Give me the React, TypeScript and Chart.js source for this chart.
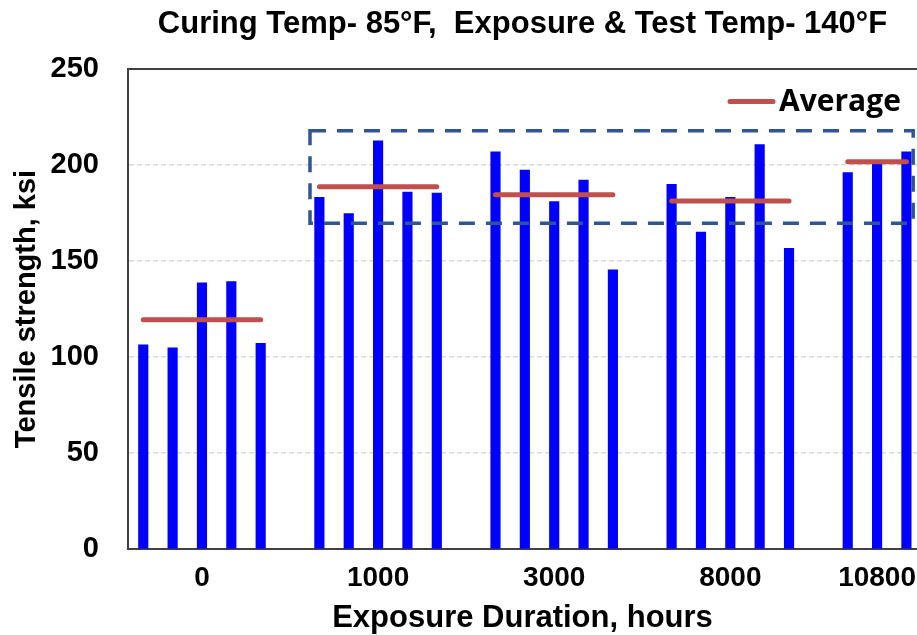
import React, { useEffect, useRef } from 'react';
import { Chart, registerables } from 'chart.js';

Chart.register(...registerables);

// ---- Data ----
const durationLabels = ['0', '1000', '3000', '8000', '10800'];
const strength0h = [106.4, 104.8, 138.6, 139.3, 107.1];
const strength1000h = [183.1, 174.7, 212.6, 185.9, 185.4];
const strength3000h = [206.9, 197.4, 180.9, 192.2, 145.4];
const strength8000h = [189.9, 165.1, 183.1, 210.7, 156.6];
const strength10800h = [196.1, 202.0, 206.9];
const averageStrength = [119.4, 188.7, 184.5, 181.2, 201.7];
const yTickValues = [0, 50, 100, 150, 200, 250];

const chartTitle = 'Curing Temp- 85°F,  Exposure & Test Temp- 140°F';
const yTitle = 'Tensile strength, ksi';
const xTitle = 'Exposure Duration, hours';
const legendLabel = 'Average';

// highlighted region (dashed box), in data units (slot index / ksi)
const highlightX = [5.68, 26.23];
const highlightY = [169.6, 217.8];

const strengthGroups = [strength0h, strength1000h, strength3000h, strength8000h, strength10800h];

const FONT = '"Liberation Sans", Arial, Helvetica, sans-serif';

export default function App() {
  const canvasRef = useRef<HTMLCanvasElement | null>(null);

  useEffect(() => {
    const canvas = canvasRef.current;
    if (!canvas) return;

    const groupStart: number[] = [];
    let slot = 0;
    strengthGroups.forEach((g) => {
      groupStart.push(slot);
      slot += g.length + 1;
    });
    const barPoints = strengthGroups.flatMap((g, gi) =>
      g.map((v, i) => ({ x: groupStart[gi] + i, y: v }))
    );
    const groupCenters = strengthGroups.map((g, gi) => groupStart[gi] + (g.length - 1) / 2);

    const avgDatasets = strengthGroups.map((g, gi) => ({
      type: 'line' as const,
      label: legendLabel,
      data: [
        { x: groupStart[gi], y: averageStrength[gi] },
        { x: groupStart[gi] + g.length - 1, y: averageStrength[gi] },
      ],
      borderColor: '#C0504D',
      borderWidth: 5,
      borderCapStyle: 'round' as const,
      pointRadius: 0,
      fill: false,
      order: 1,
    }));

    const overlay = {
      id: 'overlay',
      afterDatasetsDraw(chart: any) {
        const { ctx, chartArea, scales } = chart;
        const x = scales.x;
        const y = scales.y;
        ctx.save();
        // top frame line
        ctx.strokeStyle = '#404040';
        ctx.lineWidth = 2;
        ctx.beginPath();
        ctx.moveTo(chartArea.left, chartArea.top);
        ctx.lineTo(chartArea.right, chartArea.top);
        ctx.stroke();

        // dashed highlight box
        const bx0 = x.getPixelForValue(highlightX[0]);
        const bx1 = x.getPixelForValue(highlightX[1]);
        const by0 = y.getPixelForValue(highlightY[1]);
        const by1 = y.getPixelForValue(highlightY[0]);
        ctx.setLineDash([16, 11]);
        ctx.strokeStyle = '#2F5597';
        ctx.lineWidth = 3.5;
        ctx.strokeRect(bx0, by0, bx1 - bx0, by1 - by0);
        ctx.setLineDash([]);

        // legend
        ctx.strokeStyle = '#C0504D';
        ctx.lineWidth = 5;
        ctx.lineCap = 'round';
        ctx.beginPath();
        ctx.moveTo(730, 101.5);
        ctx.lineTo(773, 101.5);
        ctx.stroke();
        ctx.fillStyle = '#000000';
        ctx.font = 'bold 30px "Open Sans", "Noto Sans", sans-serif';
        ctx.textAlign = 'left';
        ctx.textBaseline = 'alphabetic';
        ctx.fillText(legendLabel, 779, 111);

        // chart title, centred over the plot area
        ctx.font = 'bold 31px ' + FONT;
        ctx.textAlign = 'center';
        ctx.fillText(chartTitle, (chartArea.left + chartArea.right) / 2, 33);
        ctx.restore();
      },
    };

    const chart = new Chart(canvas, {
      type: 'bar',
      data: {
        datasets: [
          {
            type: 'bar' as const,
            label: 'Tensile strength',
            data: barPoints,
            backgroundColor: '#0000FF',
            borderWidth: 0,
            barThickness: 9.5,
            order: 2,
          },
          ...avgDatasets,
        ] as any,
      },
      options: {
        responsive: false,
        animation: false,
        devicePixelRatio: 1,
        layout: { padding: { top: 69, left: 0, right: 0, bottom: 0 } },
        plugins: {
          legend: { display: false },
          tooltip: { enabled: false },
          title: { display: false },
        },
        scales: {
          x: {
            type: 'linear',
            offset: false,
            min: -0.52,
            max: 26.36,
            grid: { display: false, drawTicks: false },
            border: { display: true, color: '#404040', width: 2 },
            afterBuildTicks: (scale: any) => {
              scale.ticks = groupCenters.map((v) => ({ value: v }));
            },
            afterFit: (scale: any) => {
              scale.height = 86;
              scale.paddingLeft = 0;
              scale.paddingRight = 0;
            },
            ticks: {
              autoSkip: false,
              maxRotation: 0,
              minRotation: 0,
              padding: 12,
              color: '#000000',
              font: { family: FONT, size: 28, weight: 'bold', lineHeight: 1.2 },
              callback: (_v: any, i: number) => durationLabels[i],
            },
            title: {
              display: true,
              text: xTitle,
              color: '#000000',
              font: { family: FONT, size: 31, weight: 'bold', lineHeight: 1 },
              padding: { top: 0, bottom: 1 },
            },
          },
          y: {
            type: 'linear',
            min: 0,
            max: 250,
            afterBuildTicks: (scale: any) => {
              scale.ticks = yTickValues.map((v) => ({ value: v }));
            },
            afterFit: (scale: any) => {
              scale.width = 128;
              scale.paddingTop = 0;
              scale.paddingBottom = 0;
            },
            grid: {
              color: '#D9D9D9',
              lineWidth: 1.5,
              drawTicks: false,
            },
            border: { display: true, color: '#404040', width: 2, dash: [5, 3] },
            ticks: {
              padding: 29,
              color: '#000000',
              font: { family: FONT, size: 29, weight: 'bold' },
            },
            title: {
              display: true,
              text: yTitle,
              color: '#000000',
              font: { family: FONT, size: 29, weight: 'bold', lineHeight: 1.2 },
              padding: { top: 10, bottom: 0 },
            },
          },
        },
      } as any,
      plugins: [overlay],
    });

    return () => chart.destroy();
  }, []);

  return (
    <div style={{ position: 'absolute', left: 0, top: 0, width: 917, height: 635, background: '#ffffff' }}>
      <canvas ref={canvasRef} width={917} height={635} style={{ display: 'block' }} />
    </div>
  );
}
